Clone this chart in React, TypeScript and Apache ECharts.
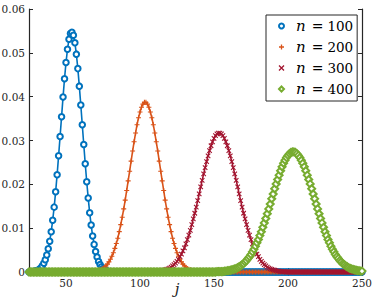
import React, { useEffect, useRef } from "react";
import * as echarts from "echarts";

// j runs from 25 to 250 (step 1). Probabilities in units of 1e-4.
const jStart = 25;
const xTicks = [50, 100, 150, 200, 250];
const yTicks = [0, 0.01, 0.02, 0.03, 0.04, 0.05, 0.06];
const seriesNames = ["n = 100", "n = 200", "n = 300", "n = 400"];
const xAxisTitle = "j";
const colors = ["#0072BD", "#D95319", "#A2142F", "#77AC30"];

const p100 = [
  /* 25-29 */ 0, 0, 1, 1, 2,
  /* 30 */ 3, 4, 6, 9, 14, 20, 28, 39, 53, 70,
  /* 40 */ 92, 118, 148, 183, 222, 265, 309, 354, 399, 441,
  /* 50 */ 478, 508, 531, 544, 547, 540, 523, 497, 464, 424,
  /* 60 */ 381, 336, 291, 247, 206, 169, 135, 107, 82, 63,
  /* 70 */ 47, 34, 24, 17, 12, 8, 5, 4, 2, 1,
  /* 80 */ 1, 0, 0, 0, 0, 0, 0, 0, 0, 0,
  /* 90 */ 0, 0, 0, 0, 0, 0, 0, 0, 0, 0,
  /* 100 */ 0, 0, 0, 0, 0, 0, 0, 0, 0, 0,
  /* 110 */ 0, 0, 0, 0, 0, 0, 0, 0, 0, 0,
  /* 120 */ 0, 0, 0, 0, 0, 0, 0, 0, 0, 0,
  /* 130 */ 0, 0, 0, 0, 0, 0, 0, 0, 0, 0,
  /* 140 */ 0, 0, 0, 0, 0, 0, 0, 0, 0, 0,
  /* 150 */ 0, 0, 0, 0, 0, 0, 0, 0, 0, 0,
  /* 160 */ 0, 0, 0, 0, 0, 0, 0, 0, 0, 0,
  /* 170 */ 0, 0, 0, 0, 0, 0, 0, 0, 0, 0,
  /* 180 */ 0, 0, 0, 0, 0, 0, 0, 0, 0, 0,
  /* 190 */ 0, 0, 0, 0, 0, 0, 0, 0, 0, 0,
  /* 200 */ 0, 0, 0, 0, 0, 0, 0, 0, 0, 0,
  /* 210 */ 0, 0, 0, 0, 0, 0, 0, 0, 0, 0,
  /* 220 */ 0, 0, 0, 0, 0, 0, 0, 0, 0, 0,
  /* 230 */ 0, 0, 0, 0, 0, 0, 0, 0, 0, 0,
  /* 240 */ 0, 0, 0, 0, 0, 0, 0, 0, 0, 0,
  /* 250 */ 0,
];

const p200 = [
  /* 25-29 */ 0, 0, 0, 0, 0,
  /* 30 */ 0, 0, 0, 0, 0, 0, 0, 0, 0, 0,
  /* 40 */ 0, 0, 0, 0, 0, 0, 0, 0, 0, 0,
  /* 50 */ 0, 0, 0, 0, 0, 0, 0, 0, 0, 0,
  /* 60 */ 0, 0, 0, 0, 0, 0, 0, 1, 1, 1,
  /* 70 */ 2, 3, 4, 5, 6, 8, 11, 14, 18, 23,
  /* 80 */ 29, 36, 44, 54, 65, 77, 92, 108, 125, 144,
  /* 90 */ 164, 186, 208, 230, 253, 276, 297, 317, 336, 352,
  /* 100 */ 365, 376, 383, 387, 387, 383, 376, 365, 352, 336,
  /* 110 */ 317, 297, 276, 253, 230, 208, 186, 164, 144, 125,
  /* 120 */ 108, 92, 77, 65, 54, 44, 36, 29, 23, 18,
  /* 130 */ 14, 11, 8, 6, 5, 4, 3, 2, 1, 1,
  /* 140 */ 1, 0, 0, 0, 0, 0, 0, 0, 0, 0,
  /* 150 */ 0, 0, 0, 0, 0, 0, 0, 0, 0, 0,
  /* 160 */ 0, 0, 0, 0, 0, 0, 0, 0, 0, 0,
  /* 170 */ 0, 0, 0, 0, 0, 0, 0, 0, 0, 0,
  /* 180 */ 0, 0, 0, 0, 0, 0, 0, 0, 0, 0,
  /* 190 */ 0, 0, 0, 0, 0, 0, 0, 0, 0, 0,
  /* 200 */ 0, 0, 0, 0, 0, 0, 0, 0, 0, 0,
  /* 210 */ 0, 0, 0, 0, 0, 0, 0, 0, 0, 0,
  /* 220 */ 0, 0, 0, 0, 0, 0, 0, 0, 0, 0,
  /* 230 */ 0, 0, 0, 0, 0, 0, 0, 0, 0, 0,
  /* 240 */ 0, 0, 0, 0, 0, 0, 0, 0, 0, 0,
  /* 250 */ 0,
];

const p300 = [
  /* 25-29 */ 0, 0, 0, 0, 0,
  /* 30 */ 0, 0, 0, 0, 0, 0, 0, 0, 0, 0,
  /* 40 */ 0, 0, 0, 0, 0, 0, 0, 0, 0, 0,
  /* 50 */ 0, 0, 0, 0, 0, 0, 0, 0, 0, 0,
  /* 60 */ 0, 0, 0, 0, 0, 0, 0, 0, 0, 0,
  /* 70 */ 0, 0, 0, 0, 0, 0, 0, 0, 0, 0,
  /* 80 */ 0, 0, 0, 0, 0, 0, 0, 0, 0, 0,
  /* 90 */ 0, 0, 0, 0, 0, 0, 0, 0, 0, 0,
  /* 100 */ 0, 0, 0, 0, 0, 0, 0, 0, 0, 1,
  /* 110 */ 1, 1, 1, 2, 2, 3, 4, 5, 6, 7,
  /* 120 */ 9, 11, 14, 17, 20, 24, 29, 35, 41, 48,
  /* 130 */ 55, 64, 74, 84, 95, 108, 121, 134, 148, 163,
  /* 140 */ 178, 194, 209, 224, 238, 252, 265, 277, 288, 297,
  /* 150 */ 305, 311, 315, 317, 317, 315, 311, 305, 297, 288,
  /* 160 */ 277, 265, 252, 238, 224, 209, 194, 178, 163, 148,
  /* 170 */ 134, 121, 108, 95, 84, 74, 64, 55, 48, 41,
  /* 180 */ 35, 29, 24, 20, 17, 14, 11, 9, 7, 6,
  /* 190 */ 5, 4, 3, 2, 2, 1, 1, 1, 1, 0,
  /* 200 */ 0, 0, 0, 0, 0, 0, 0, 0, 0, 0,
  /* 210 */ 0, 0, 0, 0, 0, 0, 0, 0, 0, 0,
  /* 220 */ 0, 0, 0, 0, 0, 0, 0, 0, 0, 0,
  /* 230 */ 0, 0, 0, 0, 0, 0, 0, 0, 0, 0,
  /* 240 */ 0, 0, 0, 0, 0, 0, 0, 0, 0, 0,
  /* 250 */ 0,
];

const p400 = [
  /* 25-29 */ 0, 0, 0, 0, 0,
  /* 30 */ 0, 0, 0, 0, 0, 0, 0, 0, 0, 0,
  /* 40 */ 0, 0, 0, 0, 0, 0, 0, 0, 0, 0,
  /* 50 */ 0, 0, 0, 0, 0, 0, 0, 0, 0, 0,
  /* 60 */ 0, 0, 0, 0, 0, 0, 0, 0, 0, 0,
  /* 70 */ 0, 0, 0, 0, 0, 0, 0, 0, 0, 0,
  /* 80 */ 0, 0, 0, 0, 0, 0, 0, 0, 0, 0,
  /* 90 */ 0, 0, 0, 0, 0, 0, 0, 0, 0, 0,
  /* 100 */ 0, 0, 0, 0, 0, 0, 0, 0, 0, 0,
  /* 110 */ 0, 0, 0, 0, 0, 0, 0, 0, 0, 0,
  /* 120 */ 0, 0, 0, 0, 0, 0, 0, 0, 0, 0,
  /* 130 */ 0, 0, 0, 0, 0, 0, 0, 0, 0, 0,
  /* 140 */ 0, 0, 0, 0, 0, 0, 0, 0, 0, 0,
  /* 150 */ 0, 0, 1, 1, 1, 1, 1, 2, 2, 3,
  /* 160 */ 3, 4, 5, 6, 7, 8, 10, 12, 14, 17,
  /* 170 */ 19, 23, 26, 31, 35, 40, 46, 52, 59, 67,
  /* 180 */ 74, 83, 92, 102, 112, 122, 133, 144, 155, 167,
  /* 190 */ 178, 190, 201, 211, 221, 231, 240, 248, 255, 261,
  /* 200 */ 266, 270, 273, 274, 274, 273, 270, 266, 261, 255,
  /* 210 */ 248, 240, 231, 221, 211, 201, 190, 178, 167, 155,
  /* 220 */ 144, 133, 122, 112, 102, 92, 83, 74, 67, 59,
  /* 230 */ 52, 46, 40, 35, 31, 26, 23, 19, 17, 14,
  /* 240 */ 12, 10, 8, 7, 6, 5, 4, 3, 3, 2,
  /* 250 */ 2,
];

const allValues = [p100, p200, p300, p400];
const symbols = [
  "emptyCircle",
  "path://M0,5L10,5M5,0L5,10",
  "path://M0,0L10,10M10,0L0,10",
  "emptyDiamond",
];
const symbolSizes = [5.5, 5, 4.5, 7];

const AXIS_COLOR = "#262626";
const SERIF = "DejaVu Serif";

export default function App() {
  const ref = useRef<HTMLDivElement>(null);

  useEffect(() => {
    if (!ref.current) return;
    const chart = echarts.init(ref.current, undefined, { renderer: "svg" });

    const series = allValues.map((vals, k) => ({
      name: seriesNames[k],
      type: "line",
      xAxisIndex: 0,
      yAxisIndex: 0,
      data: vals.map((v, i) => [jStart + i, v / 10000]),
      symbol: symbols[k],
      symbolSize: symbolSizes[k],
      showAllSymbol: true,
      lineStyle: { color: colors[k], width: 1.6 },
      itemStyle: { color: colors[k], borderColor: colors[k], borderWidth: 1.1 },
      emphasis: { disabled: true },
    }));

    const tickStyle = { show: true, inside: true, length: 4, lineStyle: { color: AXIS_COLOR, width: 1 } };
    const lineStyle = { show: true, lineStyle: { color: AXIS_COLOR, width: 1.2 } };

    chart.setOption({
      animation: false,
      backgroundColor: "#ffffff",
      textStyle: { fontFamily: SERIF },
      grid: { left: 29, right: 12, top: 9, bottom: 32, containLabel: false, outerBoundsMode: "none" },
      graphic: [
        {
          type: "text",
          x: 177,
          y: 289,
          style: {
            text: xAxisTitle,
            font: `italic 15px '${SERIF}'`,
            fill: AXIS_COLOR,
            textAlign: "center",
            textVerticalAlign: "middle",
          },
        },
      ],
      xAxis: [
        {
          type: "value",
          min: 25,
          max: 250,
          position: "bottom",
          axisLine: lineStyle,
          axisTick: { ...tickStyle, customValues: xTicks },
          axisLabel: {
            customValues: xTicks,
            margin: 5,
            fontFamily: SERIF,
            fontSize: 10.5,
            color: AXIS_COLOR,
          },
          splitLine: { show: false },
        },
        {
          type: "value",
          min: 25,
          max: 250,
          position: "top",
          axisLine: lineStyle,
          axisTick: { ...tickStyle, customValues: xTicks },
          axisLabel: { show: false },
          splitLine: { show: false },
        },
      ],
      yAxis: [
        {
          type: "value",
          min: 0,
          max: 0.06,
          interval: 0.01,
          position: "left",
          axisLine: lineStyle,
          axisTick: tickStyle,
          axisLabel: {
            margin: 4,
            fontFamily: SERIF,
            fontSize: 10.5,
            color: AXIS_COLOR,
            formatter: (v: number) => {
              const t = yTicks.find((y) => Math.abs(y - v) < 1e-9);
              const val = t === undefined ? v : t;
              return val === 0 ? "0" : val.toFixed(2);
            },
          },
          splitLine: { show: false },
        },
        {
          type: "value",
          min: 0,
          max: 0.06,
          interval: 0.01,
          position: "right",
          axisLine: lineStyle,
          axisTick: tickStyle,
          axisLabel: { show: false },
          splitLine: { show: false },
        },
      ],
      legend: {
        orient: "vertical",
        left: 266,
        top: 15,
        padding: [3, 4, 4, 12],
        itemGap: 5,
        itemWidth: 5,
        itemHeight: 5,
        borderColor: AXIS_COLOR,
        borderWidth: 1,
        backgroundColor: "#ffffff",
        selectedMode: false,
        data: seriesNames.map((n, k) => ({
          name: n,
          icon: symbols[k],
          itemStyle: { borderWidth: 1.3 },
        })),
        formatter: (name: string) => {
          const num = name.split("=")[1].trim();
          return `{i|n}{e|=}{t|${num}}`;
        },
        textStyle: {
          color: "#000",
          fontFamily: SERIF,
          lineHeight: 16,
          rich: {
            i: { fontFamily: SERIF, fontStyle: "italic", fontSize: 15, padding: [0, 0, 0, 7], lineHeight: 16 },
            e: { fontFamily: SERIF, fontSize: 14, padding: [0, 4, 0, 6], lineHeight: 16 },
            t: { fontFamily: SERIF, fontSize: 13.5, lineHeight: 16 },
          },
        },
      },
      series,
    });

    return () => chart.dispose();
  }, []);

  return (
    <div
      ref={ref}
      style={{ position: "fixed", left: 0, top: 0, width: 374, height: 304 }}
    />
  );
}
